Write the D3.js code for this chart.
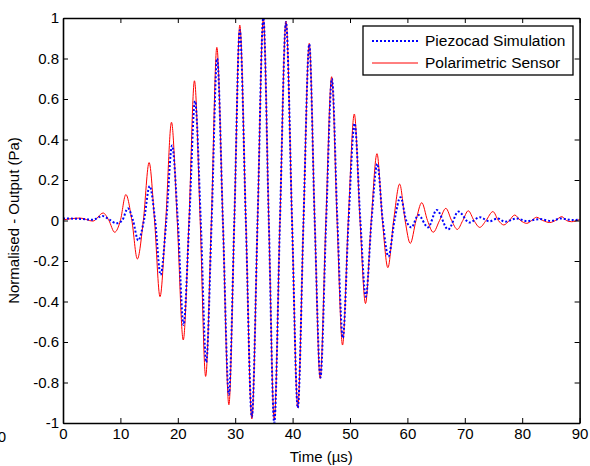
<!DOCTYPE html>
<html>
<head>
<meta charset="utf-8">
<script src="https://cdn.jsdelivr.net/npm/d3@7"></script>
<style>
body { margin: 0; background: #fff; }
text { font-family: "Liberation Sans", Arial, sans-serif; fill: #000; }
</style>
</head>
<body>
<div id="chart"></div>
<script>
// simulated signal (blue dotted) - peaks, troughs and crossings
var simTime = [0, 3.0, 5.2, 6.9, 8.1, 9.3, 10.3, 11.3, 12.2, 13.1, 14.1, 15.1, 16.05, 17.0, 18.0,
    19.0, 20.0, 21.0, 22.0, 23.0, 24.0, 24.95, 25.9, 26.85, 27.85, 28.9, 29.85, 30.8, 31.85, 32.9,
    33.9, 34.9, 35.85, 36.8, 37.8, 38.85, 39.9, 40.9, 41.9, 42.9, 43.85, 44.85, 45.85, 46.85, 47.8,
    48.75, 49.75, 50.8, 51.8, 52.75, 53.75, 54.75, 55.7, 56.7, 57.75, 58.8, 59.8, 60.7, 61.9, 63.6,
    65.1, 67.1, 68.9, 70.8, 72.6, 74.3, 75.7, 77.0, 79.0, 80.8, 83.0, 85.0, 86.8, 88.8, 90];
var simValue = [0.01, 0.008, 0.004, 0.022, 0.004, -0.014, 0, 0.06, 0, -0.098, 0, 0.17, 0, -0.268, 0,
    0.37, 0, -0.516, 0, 0.59, 0, -0.70, 0, 0.80, 0, -0.86, 0, 0.94, 0, -0.97,
    0, 1.0, 0, -1.0, 0, 0.98, 0, -0.925, 0, 0.87, 0, -0.775, 0, 0.70, 0,
    -0.58, 0, 0.48, 0, -0.376, 0, 0.28, 0, -0.178, 0, 0.115, 0, -0.034, 0.027, -0.034,
    0.052, -0.044, 0.044, -0.01, 0.016, -0.004, 0.01, -0.006, 0.01, -0.003, 0.007, -0.002, 0.01, 0.002, 0.005];

// measured signal (red solid)
var sensorTime = [0, 3, 5.2, 7.0, 8.0, 9.0, 10.0, 10.95, 12.0, 12.95, 14.0, 15.0, 15.95, 16.9, 17.9,
    18.9, 19.9, 20.95, 21.95, 22.9, 23.9, 24.85, 25.85, 26.8, 27.85, 28.9, 29.85, 30.8, 31.85, 32.9,
    33.9, 34.9, 35.85, 36.8, 37.8, 38.85, 39.9, 40.9, 41.9, 42.9, 43.85, 44.8, 45.8, 46.8, 47.75,
    48.7, 49.7, 50.75, 51.75, 52.7, 53.7, 54.7, 55.65, 56.6, 57.6, 58.65, 59.6, 60.5, 61.5, 62.5,
    63.5, 64.5, 65.6, 66.7, 67.7, 68.7, 69.65, 70.6, 71.6, 72.6, 73.7, 74.9, 75.85, 76.8, 77.75,
    78.7, 79.7, 80.8, 81.65, 82.5, 83.6, 84.8, 85.8, 86.9, 87.7, 88.6, 90];
var sensorValue = [0.003, 0.012, -0.003, 0.037, 0, -0.058, 0, 0.128, 0, -0.19, 0, 0.286, 0, -0.376, 0,
    0.485, 0, -0.59, 0, 0.69, 0, -0.77, 0, 0.855, 0, -0.91, 0, 0.965, 0, -0.98,
    0, 1.0, 0, -0.985, 0, 0.985, 0, -0.925, 0, 0.875, 0, -0.78, 0, 0.71, 0,
    -0.615, 0, 0.526, 0, -0.41, 0, 0.33, 0, -0.233, 0, 0.18, 0, -0.113, 0, 0.088,
    0, -0.058, 0, 0.06, 0, -0.044, 0, 0.048, 0, -0.034, 0, 0.044, 0, -0.022, 0,
    0.027, 0, -0.014, 0, 0.016, 0, -0.01, 0, 0.019, 0, -0.006, 0.005];

var xTicks = [0, 10, 20, 30, 40, 50, 60, 70, 80, 90];
var yTicks = [-1, -0.8, -0.6, -0.4, -0.2, 0, 0.2, 0.4, 0.6, 0.8, 1];
var seriesNames = ["Piezocad Simulation", "Polarimetric Sensor"];

var w = 590;
var h = 466;
var padL = 63, padR = 579.6, padT = 18, padB = 423;

var svg = d3.select("#chart")
    .append("svg")
    .attr("width", w)
    .attr("height", h);

svg.append("rect").attr("width", w).attr("height", h).attr("fill", "#fff");

var xScale = d3.scaleLinear().domain([0, 90]).range([padL, padR]);
var yScale = d3.scaleLinear().domain([-1, 1]).range([padB, padT]);

function zip(t, v) {
    return t.map(function(d, i) { return {t: d, v: v[i]}; });
}

var line = d3.line()
    .x(function(d) { return xScale(d.t); })
    .y(function(d) { return yScale(d.v); })
    .curve(d3.curveMonotoneX);

svg.append("path")
    .datum(zip(sensorTime, sensorValue))
    .attr("fill", "none")
    .attr("stroke", "#ff0000")
    .attr("stroke-width", 1)
    .attr("d", line);

svg.append("path")
    .datum(zip(simTime, simValue))
    .attr("fill", "none")
    .attr("stroke", "#0000ff")
    .attr("stroke-width", 2)
    .attr("stroke-dasharray", "2,2")
    .attr("d", line);

// axes, ticks pointing inward like matlab
var fmt = function(d) { return String(d); };

var gx = svg.append("g")
    .attr("transform", "translate(0," + padB + ")")
    .call(d3.axisBottom(xScale).tickValues(xTicks).tickSizeInner(-5).tickSizeOuter(0).tickPadding(5).tickFormat(fmt));
var gy = svg.append("g")
    .attr("transform", "translate(" + padL + ",0)")
    .call(d3.axisLeft(yScale).tickValues(yTicks).tickSizeInner(-5).tickSizeOuter(0).tickPadding(4).tickFormat(fmt));
var gt = svg.append("g")
    .attr("transform", "translate(0," + padT + ")")
    .call(d3.axisTop(xScale).tickValues(xTicks).tickSizeInner(-5).tickSizeOuter(0).tickFormat(""));
var gr = svg.append("g")
    .attr("transform", "translate(" + padR + ",0)")
    .call(d3.axisRight(yScale).tickValues(yTicks).tickSizeInner(-5).tickSizeOuter(0).tickFormat(""));

[gx, gy, gt, gr].forEach(function(g) {
    g.select(".domain").attr("stroke", "#000").attr("stroke-width", 1.6);
    g.selectAll(".tick line").attr("stroke", "#000").attr("stroke-width", 1);
    g.selectAll(".tick text").attr("font-size", 15).attr("fill", "#000")
        .attr("font-family", "Liberation Sans, Arial, sans-serif");
});

// axis labels
svg.append("text")
    .attr("x", (padL + padR) / 2)
    .attr("y", 462)
    .attr("text-anchor", "middle")
    .style("font-size", "15px")
    .text("Time (\u00b5s)");

svg.append("text")
    .attr("transform", "translate(19," + ((padT + padB) / 2) + ") rotate(-90)")
    .attr("text-anchor", "middle")
    .style("font-size", "15px")
    .text("Normalised - Output (Pa)");

// leftover tick label from a neighbouring panel
svg.append("text")
    .attr("x", 6)
    .attr("y", 442)
    .attr("text-anchor", "end")
    .style("font-size", "15px")
    .text("0");

// legend
var legend = svg.append("g");
legend.append("rect")
    .attr("x", 363).attr("y", 26)
    .attr("width", 210).attr("height", 49)
    .attr("fill", "#fff").attr("stroke", "#000").attr("stroke-width", 1.3);

legend.append("line")
    .attr("x1", 372).attr("x2", 418).attr("y1", 41).attr("y2", 41)
    .attr("stroke", "#0000ff").attr("stroke-width", 2).attr("stroke-dasharray", "2,2");
legend.append("line")
    .attr("x1", 372).attr("x2", 418).attr("y1", 63).attr("y2", 63)
    .attr("stroke", "#ff0000").attr("stroke-width", 1);

legend.selectAll("text.lab")
    .data(seriesNames)
    .enter().append("text")
    .attr("class", "lab")
    .attr("x", 425)
    .attr("y", function(d, i) { return 46 + i * 22; })
    .style("font-size", "15.5px")
    .text(function(d) { return d; });
</script>
</body>
</html>
